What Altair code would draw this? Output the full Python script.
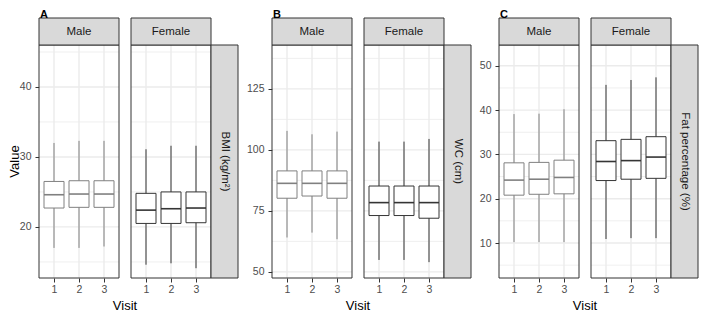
import altair as alt
import pandas as pd

VISITS = ["1", "2", "3"]
SEXES = ["Male", "Female"]
MEASURES = ["BMI (kg/m²)", "WC (cm)", "Fat percentage (%)"]
TAGS = ["A", "B", "C"]

# Box statistics: lower whisker, Q1, median, Q3, upper whisker
BMI_MALE_LOW = [17.0, 17.0, 17.2]
BMI_MALE_Q1 = [22.7, 22.8, 22.8]
BMI_MALE_MED = [24.6, 24.7, 24.7]
BMI_MALE_Q3 = [26.5, 26.6, 26.6]
BMI_MALE_HIGH = [32.0, 32.3, 32.3]
BMI_FEMALE_LOW = [14.6, 14.8, 14.1]
BMI_FEMALE_Q1 = [20.5, 20.5, 20.6]
BMI_FEMALE_MED = [22.4, 22.6, 22.7]
BMI_FEMALE_Q3 = [24.8, 25.0, 25.0]
BMI_FEMALE_HIGH = [31.1, 31.6, 31.6]

WC_MALE_LOW = [64.1, 66.1, 63.4]
WC_MALE_Q1 = [80.2, 81.1, 80.2]
WC_MALE_MED = [86.3, 86.3, 86.3]
WC_MALE_Q3 = [91.4, 91.4, 91.4]
WC_MALE_HIGH = [107.8, 106.4, 107.5]
WC_FEMALE_LOW = [54.9, 54.9, 54.0]
WC_FEMALE_Q1 = [73.1, 73.1, 72.0]
WC_FEMALE_MED = [78.4, 78.4, 78.4]
WC_FEMALE_Q3 = [85.2, 85.2, 85.2]
WC_FEMALE_HIGH = [103.4, 103.4, 104.5]

FAT_MALE_LOW = [10.2, 10.2, 10.2]
FAT_MALE_Q1 = [20.8, 21.0, 21.1]
FAT_MALE_MED = [24.2, 24.4, 24.8]
FAT_MALE_Q3 = [28.1, 28.2, 28.7]
FAT_MALE_HIGH = [39.1, 39.2, 40.2]
FAT_FEMALE_LOW = [10.9, 11.1, 11.1]
FAT_FEMALE_Q1 = [24.1, 24.4, 24.6]
FAT_FEMALE_MED = [28.4, 28.6, 29.4]
FAT_FEMALE_Q3 = [33.1, 33.4, 34.0]
FAT_FEMALE_HIGH = [45.7, 46.8, 47.4]

BMI_DOMAIN = [12.7, 46.0]
BMI_MAJOR = [20, 30, 40]
BMI_MINOR = [15, 25, 35, 45]
WC_DOMAIN = [47.5, 143.0]
WC_MAJOR = [50, 75, 100, 125]
WC_MINOR = [62.5, 87.5, 112.5, 137.5]
FAT_DOMAIN = [2.1, 54.7]
FAT_MAJOR = [10, 20, 30, 40, 50]
FAT_MINOR = [5, 15, 25, 35, 45]

W = 80
H = 233
STRIP = 27
TOP = 37
LEFT = 31
FONT = "Liberation Sans"
MALE_COL = "#808080"
FEMALE_COL = "#353535"
GRID_COL = "#ebebeb"
STRIP_FILL = "#d9d9d9"
BORDER = "#333333"

# layout width of each view (male A, female A, male B, ...); female views
# also hold the right-hand strip and the gap to the next group
VIEW_W = [W, 129, W, 123, W, W + STRIP]


def panel(stats, domain, major, minor, sex, measure, tag, first, view_w):
    low, q1, med, q3, high = stats
    df = pd.DataFrame({"visit": VISITS, "low": low, "q1": q1, "med": med,
                       "q3": q3, "high": high})
    col = MALE_COL if sex == "Male" else FEMALE_COL
    ys = alt.Scale(domain=domain, nice=False, zero=False)
    xs = alt.Scale(domain=VISITS, type="point", padding=0.6, range=[0, W])

    if sex == "Male":
        yaxis = alt.Axis(values=major, grid=False, domain=False, tickSize=4,
                         tickColor=BORDER, tickWidth=1, labelColor="#4d4d4d",
                         labelFontSize=10.5, labelPadding=4, labelFont=FONT)
    else:
        yaxis = None
    xaxis = alt.Axis(grid=False, domain=False, tickSize=4, tickColor=BORDER,
                     tickWidth=1, labelColor="#4d4d4d", labelFontSize=10.5,
                     labelPadding=2, labelAngle=0, labelFont=FONT)

    def X(field):
        return alt.X(field, scale=xs, axis=xaxis, sort=VISITS, title=None)

    def Y(field):
        return alt.Y(field, scale=ys, axis=yaxis, title=None)

    minor_grid = alt.Chart(pd.DataFrame({"g": minor})).mark_rule(
        color=GRID_COL, strokeWidth=0.8).encode(
        y=Y("g:Q"), x=alt.value(0), x2=alt.value(W))
    major_grid = alt.Chart(pd.DataFrame({"g": major})).mark_rule(
        color=GRID_COL, strokeWidth=1.4).encode(
        y=Y("g:Q"), x=alt.value(0), x2=alt.value(W))
    vgrid = alt.Chart(df).mark_rule(color=GRID_COL, strokeWidth=1.4).encode(
        x=X("visit:N"), y=alt.value(0), y2=alt.value(H))

    whisk = alt.Chart(df).mark_rule(color=col, strokeWidth=1).encode(
        x=X("visit:N"), y=Y("low:Q"), y2="high:Q")
    box = alt.Chart(df).mark_bar(size=20, fill="white", stroke=col,
                                 strokeWidth=1).encode(
        x=X("visit:N"), y=Y("q1:Q"), y2="q3:Q")
    median = alt.Chart(df).mark_tick(size=20, thickness=1.6, color=col,
                                     opacity=1).encode(
        x=X("visit:N"), y=Y("med:Q"))

    sdf = pd.DataFrame({"t": [sex]})
    border = alt.Chart(sdf).mark_rect(fill="transparent", stroke=BORDER,
                                      strokeWidth=1).encode(
        x=alt.value(0), x2=alt.value(W), y=alt.value(0), y2=alt.value(H))
    strip_rect = alt.Chart(sdf).mark_rect(fill=STRIP_FILL, stroke=BORDER,
                                          strokeWidth=1).encode(
        x=alt.value(0), x2=alt.value(W), y=alt.value(-STRIP), y2=alt.value(0))
    strip_text = alt.Chart(sdf).mark_text(fontSize=11.5, color="#1a1a1a",
                                          font=FONT, baseline="middle").encode(
        text="t:N", x=alt.value(W / 2), y=alt.value(-STRIP / 2))

    layers = [minor_grid, major_grid, vgrid, whisk, box, median, border,
              strip_rect, strip_text]

    if sex == "Female":
        mdf = pd.DataFrame({"t": [measure]})
        rs_rect = alt.Chart(mdf).mark_rect(fill=STRIP_FILL, stroke=BORDER,
                                           strokeWidth=1).encode(
            x=alt.value(W), x2=alt.value(W + STRIP), y=alt.value(0),
            y2=alt.value(H))
        rs_text = alt.Chart(mdf).mark_text(fontSize=11.5, color="#1a1a1a",
                                           font=FONT, angle=90,
                                           baseline="middle").encode(
            text="t:N", x=alt.value(W + STRIP / 2), y=alt.value(H / 2))
        layers += [rs_rect, rs_text]
    else:
        room_w = LEFT if first else 0
        room = alt.Chart(sdf).mark_rect(opacity=0).encode(
            x=alt.value(-room_w), x2=alt.value(W), y=alt.value(-TOP),
            y2=alt.value(0))
        tdf = pd.DataFrame({"t": [tag]})
        tag_text = alt.Chart(tdf).mark_text(fontSize=11, fontWeight="bold",
                                            color="#000000", font=FONT,
                                            align="left",
                                            baseline="middle").encode(
            text="t:N", x=alt.value(1), y=alt.value(-TOP + 7))
        vdf = pd.DataFrame({"t": ["Visit"]})
        visit_text = alt.Chart(vdf).mark_text(fontSize=13, color="#000000",
                                              font=FONT,
                                              baseline="middle").encode(
            text="t:N", x=alt.value(W + 6), y=alt.value(H + 28))
        layers = [room] + layers + [tag_text, visit_text]
        if first:
            ydf = pd.DataFrame({"t": ["Value"]})
            value_text = alt.Chart(ydf).mark_text(fontSize=13, color="#000000",
                                                  font=FONT, angle=270,
                                                  baseline="middle").encode(
                text="t:N", x=alt.value(-LEFT + 7), y=alt.value(H / 2))
            layers += [value_text]

    return alt.layer(*layers).properties(width=view_w, height=H)


SPECS = [
    (TAGS[0], MEASURES[0], BMI_DOMAIN, BMI_MAJOR, BMI_MINOR,
     (BMI_MALE_LOW, BMI_MALE_Q1, BMI_MALE_MED, BMI_MALE_Q3, BMI_MALE_HIGH),
     (BMI_FEMALE_LOW, BMI_FEMALE_Q1, BMI_FEMALE_MED, BMI_FEMALE_Q3, BMI_FEMALE_HIGH)),
    (TAGS[1], MEASURES[1], WC_DOMAIN, WC_MAJOR, WC_MINOR,
     (WC_MALE_LOW, WC_MALE_Q1, WC_MALE_MED, WC_MALE_Q3, WC_MALE_HIGH),
     (WC_FEMALE_LOW, WC_FEMALE_Q1, WC_FEMALE_MED, WC_FEMALE_Q3, WC_FEMALE_HIGH)),
    (TAGS[2], MEASURES[2], FAT_DOMAIN, FAT_MAJOR, FAT_MINOR,
     (FAT_MALE_LOW, FAT_MALE_Q1, FAT_MALE_MED, FAT_MALE_Q3, FAT_MALE_HIGH),
     (FAT_FEMALE_LOW, FAT_FEMALE_Q1, FAT_FEMALE_MED, FAT_FEMALE_Q3, FAT_FEMALE_HIGH)),
]

panels = []
for i, (tag, measure, dom, major, minor, mstats, fstats) in enumerate(SPECS):
    panels.append(panel(mstats, dom, major, minor, "Male", measure, tag,
                        i == 0, VIEW_W[2 * i]))
    panels.append(panel(fstats, dom, major, minor, "Female", measure, tag,
                        False, VIEW_W[2 * i + 1]))

chart = alt.hconcat(*panels, spacing=12, bounds="flush").properties(
    padding={"left": 0, "top": 0, "right": 0, "bottom": 0}
).configure(font=FONT).configure_view(strokeWidth=0)

chart.save("out.html", embed_options={"renderer": "svg", "actions": False})
